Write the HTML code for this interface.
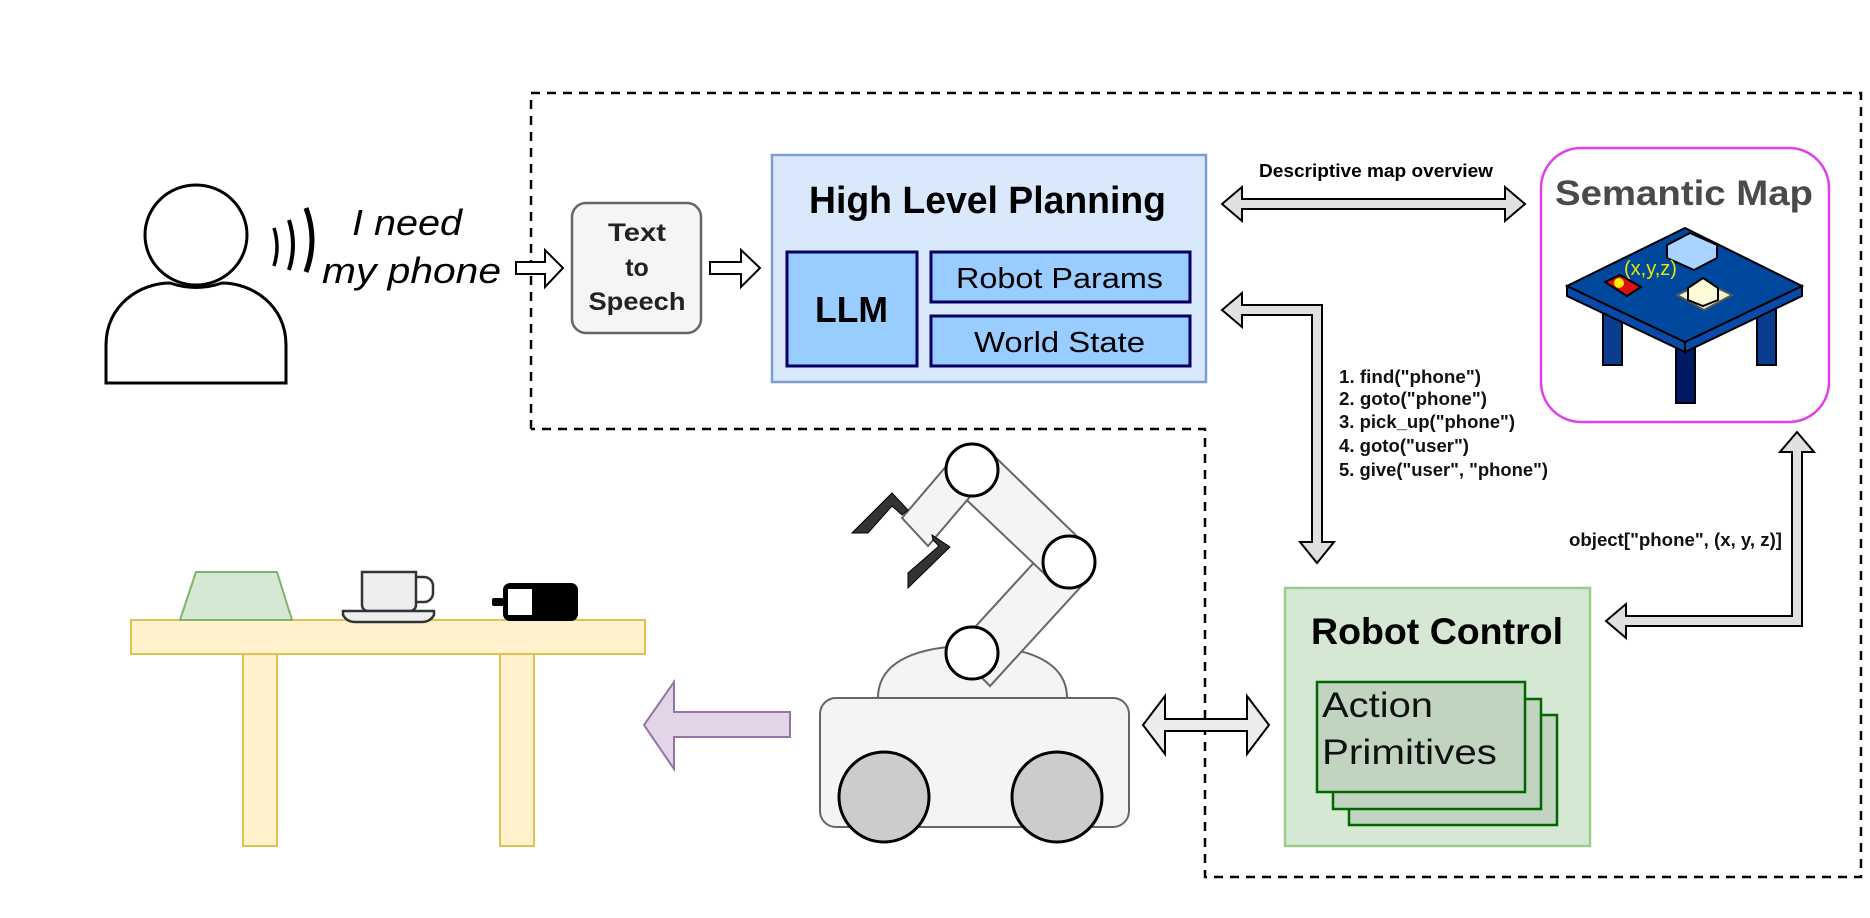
<!DOCTYPE html>
<html><head><meta charset="utf-8"><style>
html,body{margin:0;padding:0;background:#fff;}
svg{display:block;}
text{font-family:"Liberation Sans",sans-serif;}
</style></head><body>
<svg width="1870" height="918" viewBox="0 0 1870 918" xmlns="http://www.w3.org/2000/svg">
<!-- dashed outline -->
<polyline points="531,429 531,93 1861,93 1861,877 1205,877 1205,429 531,429" fill="none" stroke="#000" stroke-width="2.5" stroke-dasharray="9,7"/>

<!-- person -->
<ellipse cx="196" cy="235" rx="51" ry="50" fill="#fff" stroke="#000" stroke-width="3"/>
<path d="M106,383 L106,345 C106,305 140,283 170,283 Q196,292 222,283 C252,283 286,305 286,345 L286,383 Z" fill="#fff" stroke="#000" stroke-width="3"/>
<path d="M274,228 Q280,247 274,266" fill="none" stroke="#000" stroke-width="3.5"/>
<path d="M289,220 Q297,245 289,270" fill="none" stroke="#000" stroke-width="4"/>
<path d="M306,208 Q318,240 306,272" fill="none" stroke="#000" stroke-width="5"/>
<text x="352" y="235" font-size="36" font-style="italic" textLength="110" lengthAdjust="spacingAndGlyphs">I need</text>
<text x="322" y="283" font-size="36" font-style="italic" textLength="179" lengthAdjust="spacingAndGlyphs">my phone</text>

<!-- input arrows -->
<polygon points="516,262 545,262 545,250 563,268 545,287 545,274 516,274" fill="#fff" stroke="#000" stroke-width="2"/>
<polygon points="710,262 741,262 741,250 760,268 741,287 741,274 710,274" fill="#fff" stroke="#000" stroke-width="2"/>

<!-- Text to Speech -->
<rect x="572" y="203" width="129" height="130" rx="14" fill="#f5f5f5" stroke="#666" stroke-width="2.5"/>
<g font-weight="bold" font-size="25" fill="#222" text-anchor="middle">
<text x="637" y="241" textLength="58" lengthAdjust="spacingAndGlyphs">Text</text>
<text x="637" y="276">to</text>
<text x="637" y="310" textLength="97" lengthAdjust="spacingAndGlyphs">Speech</text>
</g>

<!-- High Level Planning -->
<rect x="772" y="155" width="434" height="227" fill="#dae8fc" stroke="#7c9fd0" stroke-width="2.5"/>
<text x="809" y="213" font-size="38" font-weight="bold" textLength="357" lengthAdjust="spacingAndGlyphs">High Level Planning</text>
<rect x="787" y="252" width="130" height="114" fill="#99ccff" stroke="#000066" stroke-width="3"/>
<text x="815" y="322" font-size="36" font-weight="bold" textLength="73" lengthAdjust="spacingAndGlyphs">LLM</text>
<rect x="931" y="252" width="259" height="50" fill="#99ccff" stroke="#000066" stroke-width="3"/>
<text x="956" y="288" font-size="29" textLength="207" lengthAdjust="spacingAndGlyphs">Robot Params</text>
<rect x="931" y="316" width="259" height="50" fill="#99ccff" stroke="#000066" stroke-width="3"/>
<text x="974" y="352" font-size="29" textLength="171" lengthAdjust="spacingAndGlyphs">World State</text>

<!-- descriptive arrow -->
<text x="1259" y="177" font-size="18" font-weight="bold" textLength="234" lengthAdjust="spacingAndGlyphs">Descriptive map overview</text>
<polygon points="1222,204 1242,187 1242,199 1505,199 1505,187 1525,204 1505,221 1505,209 1242,209 1242,221" fill="#e0e0e0" stroke="#000" stroke-width="2"/>

<!-- Semantic Map -->
<rect x="1541" y="148" width="288" height="274" rx="40" fill="#fff" stroke="#e040e6" stroke-width="2.5"/>
<text x="1555" y="205" font-size="35" font-weight="bold" fill="#4a4a4a" textLength="258" lengthAdjust="spacingAndGlyphs">Semantic Map</text>
<!-- isometric table -->
<g stroke="#000" stroke-width="2">
<rect x="1603" y="300" width="19" height="65" fill="#0a3d8f"/>
<rect x="1757" y="300" width="19" height="65" fill="#0a3d8f"/>
<rect x="1676" y="340" width="19" height="63" fill="#001a66"/>
<polygon points="1567,286 1685,342 1685,352 1567,296" fill="#0a4aa8"/>
<polygon points="1685,342 1802,286 1802,296 1685,352" fill="#0a4aa8"/>
<polygon points="1685,228 1802,286 1685,342 1567,286" fill="#00479e"/>
<polygon points="1667,245 1690,233 1717,245 1717,258 1694,270 1667,258" fill="#a9d4ff"/>
<polygon points="1677,295 1705,282 1732,295 1704,310" fill="#f3f0c8" stroke="#555"/>
<polygon points="1688,288 1703,278 1718,288 1718,300 1703,306 1688,300" fill="#fffbd8"/>
<polygon points="1605,282 1620,275 1641,287 1627,296" fill="#dd1111"/>
</g>
<circle cx="1619" cy="283" r="5" fill="#ffee00"/>
<text x="1624" y="275" font-size="20" fill="#e6e600">(x,y,z)</text>

<!-- HLP -> Robot Control elbow arrow -->
<polygon points="1222,310 1242,293 1242,305 1322,305 1322,542 1334,542 1317,563 1300,542 1312,542 1312,315 1242,315 1242,327" fill="#e0e0e0" stroke="#000" stroke-width="2"/>
<g font-size="18" font-weight="bold" fill="#111">
<text x="1339" y="383" textLength="142" lengthAdjust="spacingAndGlyphs">1. find("phone")</text>
<text x="1339" y="405" textLength="148" lengthAdjust="spacingAndGlyphs">2. goto("phone")</text>
<text x="1339" y="428" textLength="176" lengthAdjust="spacingAndGlyphs">3. pick_up("phone")</text>
<text x="1339" y="452" textLength="130" lengthAdjust="spacingAndGlyphs">4. goto("user")</text>
<text x="1339" y="476" textLength="209" lengthAdjust="spacingAndGlyphs">5. give("user", "phone")</text>
<text x="1569" y="546" textLength="213" lengthAdjust="spacingAndGlyphs">object["phone", (x, y, z)]</text>
</g>

<!-- object arrow -->
<polygon points="1797,432 1814,452 1802,452 1802,626 1626,626 1626,638 1606,621 1626,604 1626,616 1792,616 1792,452 1780,452" fill="#e0e0e0" stroke="#000" stroke-width="2"/>

<!-- Robot Control -->
<rect x="1285" y="588" width="305" height="258" fill="#d5e8d4" stroke="#9ccc8a" stroke-width="2.5"/>
<text x="1311" y="644" font-size="37" font-weight="bold" textLength="252" lengthAdjust="spacingAndGlyphs">Robot Control</text>
<rect x="1349" y="715" width="208" height="110" fill="#c0d4bf" stroke="#006600" stroke-width="2.5"/>
<rect x="1333" y="699" width="208" height="110" fill="#c0d4bf" stroke="#006600" stroke-width="2.5"/>
<rect x="1317" y="682" width="208" height="110" fill="#c0d4bf" stroke="#006600" stroke-width="2.5"/>
<text x="1322" y="717" font-size="35" fill="#111" textLength="111" lengthAdjust="spacingAndGlyphs">Action</text>
<text x="1322" y="764" font-size="35" fill="#111" textLength="175" lengthAdjust="spacingAndGlyphs">Primitives</text>

<!-- robot <-> control arrow -->
<polygon points="1143,725 1165,696 1165,719 1247,719 1247,696 1269,725 1247,754 1247,731 1165,731 1165,754" fill="#ececec" stroke="#000" stroke-width="2"/>

<!-- robot -->
<path d="M878,698 C878,660 920,646 972,646 C1024,646 1067,660 1067,698 Z" fill="#f4f4f4" stroke="#666" stroke-width="2"/>
<rect x="820" y="698" width="309" height="129" rx="16" fill="#f4f4f4" stroke="#666" stroke-width="2"/>
<ellipse cx="884" cy="797" rx="45" ry="45" fill="#cccccc" stroke="#000" stroke-width="3"/>
<ellipse cx="1057" cy="797" rx="45" ry="45" fill="#cccccc" stroke="#000" stroke-width="3"/>
<!-- arm links -->
<g stroke="#666" stroke-width="2" fill="#f4f4f4">
<polygon points="954,650 1051,544 1087,580 990,686" />
<polygon points="990,452 1087,546 1051,580 954,488" />
<polygon points="960,450 986,478 928,546 902,518" />
</g>
<!-- gripper -->
<polygon points="852,533 892,493 908,510 902,515 892,506 868,533" fill="#333" stroke="#000" stroke-width="1"/>
<polygon points="932,535 950,547 908,588 908,573 939,546 933,540" fill="#333" stroke="#000" stroke-width="1"/>
<g fill="#fff" stroke="#000" stroke-width="3">
<circle cx="972" cy="470" r="26"/>
<circle cx="1069" cy="562" r="26"/>
<circle cx="972" cy="653" r="26"/>
</g>

<!-- purple arrow -->
<polygon points="644,725 674,682 674,712 790,712 790,737 674,737 674,769" fill="#e1d5e7" stroke="#9673a6" stroke-width="2"/>

<!-- table -->
<g fill="#fff2cc" stroke="#e0c050" stroke-width="2">
<rect x="243" y="654" width="34" height="192"/>
<rect x="500" y="654" width="34" height="192"/>
<rect x="131" y="620" width="514" height="34"/>
</g>
<polygon points="180,620 196,572 277,572 292,620" fill="#d5e8d4" stroke="#82b366" stroke-width="2"/>
<!-- cup -->
<path d="M416,577 h8 a9,9 0 0 1 9,9 v7 a9,9 0 0 1 -9,9 h-8" fill="none" stroke="#333" stroke-width="2.5"/>
<path d="M362,572 h54 v33 a6,6 0 0 1 -6,6 h-42 a6,6 0 0 1 -6,-6 z" fill="#eee" stroke="#333" stroke-width="2.5"/>
<path d="M343,611 h91 v4 q-4,7 -12,7 h-67 q-8,0 -12,-7 z" fill="#eee" stroke="#333" stroke-width="2.5"/>
<!-- phone -->
<rect x="503" y="583" width="75" height="38" rx="7" fill="#000"/>
<rect x="508" y="589" width="24" height="26" fill="#fff"/>
<rect x="492" y="598" width="12" height="8" rx="2" fill="#000"/>
</svg>
</body></html>
